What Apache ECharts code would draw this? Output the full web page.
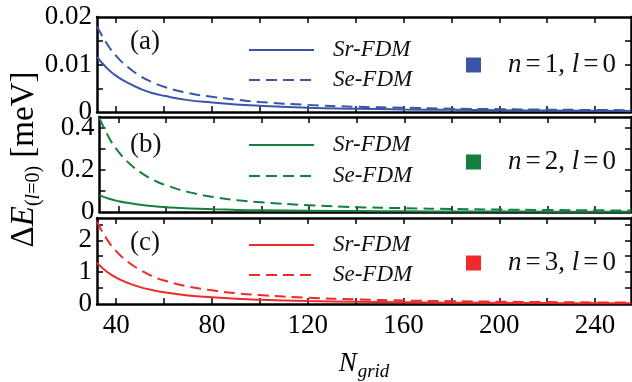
<!DOCTYPE html>
<html>
<head>
<meta charset="utf-8">
<script src="https://cdn.jsdelivr.net/npm/echarts@6/dist/echarts.min.js"></script>
<style>html,body{margin:0;padding:0;background:#fff}#c{width:632px;height:382px}</style>
</head>
<body>
<div id="c"></div>
<script>
// ---- data ----
const nGrid = [32,36,40,45,50,55,60,70,80,90,100,120,140,160,180,200,220,240,255];
const srA = [0.0116,0.0093,0.0076,0.0061,0.0049,0.0040,0.0034,0.0025,0.0020,0.0016,0.0013,0.0009,0.0007,0.00055,0.00045,0.00037,0.0003,0.00026,0.00023];
const seA = [0.0180,0.0145,0.0118,0.0094,0.0076,0.0063,0.0053,0.0040,0.0032,0.0026,0.0021,0.0015,0.0011,0.0009,0.0007,0.0006,0.0005,0.00042,0.00038];
const srB = [0.080,0.063,0.051,0.041,0.033,0.027,0.023,0.017,0.013,0.010,0.008,0.0057,0.0042,0.0032,0.0025,0.002,0.0017,0.0014,0.0012];
const seB = [0.445,0.352,0.285,0.225,0.182,0.150,0.126,0.093,0.071,0.056,0.046,0.032,0.023,0.018,0.014,0.0115,0.0095,0.008,0.007];
const srC = [1.29,1.02,0.83,0.66,0.53,0.44,0.37,0.27,0.21,0.165,0.135,0.095,0.07,0.053,0.042,0.034,0.028,0.024,0.021];
const seC = [2.58,2.05,1.66,1.32,1.07,0.88,0.74,0.55,0.43,0.34,0.28,0.195,0.145,0.11,0.088,0.072,0.06,0.05,0.045];
const xTicks = [40,60,80,100,120,140,160,180,200,220,240];
const xTickLabels = [40,80,120,160,200,240];
const yTicksA = [0.005,0.01,0.015]; const yLabelsA = [0,0.01,0.02];
const yTicksB = [0.1,0.2,0.3,0.4];  const yLabelsB = [0,0.2,0.4];
const yTicksC = [0.5,1,1.5,2,2.5];  const yLabelsC = [0,1,2];
const panelNames = ['(a)','(b)','(c)'];
const stateN = ['1','2','3'];
const seriesNames = ['Sr-FDM','Se-FDM'];

const colors = ['#3a55a8','#15803d','#ee2a2a'];
const FONT = '"Liberation Serif", "Times New Roman", serif';
const tops = [17,117,218];
const heights = [95,95,94];
const ymaxs = [0.02,0.45,2.7];
const yTicks = [yTicksA,yTicksB,yTicksC];
const yLabels = [yLabelsA,yLabelsB,yLabelsC];
const srs = [srA,srB,srC], ses = [seA,seB,seC];
const legTop = [50,145,245];
const sqTop = [65,162,263];

const grid=[], xAxis=[], yAxis=[], series=[], legend=[], graphic=[];
const axLine = {show:true, onZero:false, lineStyle:{color:'#000', width:2.5}};
for (let p=0;p<3;p++){
  grid.push({left:97, top:tops[p], width:534, height:heights[p]});
  const xbase = {type:'value', gridIndex:p, min:32, max:255, splitLine:{show:false}, axisLine:axLine,
    axisTick:{show:true, inside:true, length:6, customValues:xTicks, lineStyle:{color:'#000', width:1.5}}};
  xAxis.push(Object.assign({}, xbase, {position:'bottom',
    axisLabel:{show:p===2, customValues:xTickLabels, fontSize:27, fontFamily:FONT, color:'#000', margin:8},
    name: p===2 ? '{n|N}{g|grid}' : '', nameLocation:'middle', nameGap:42,
    nameTextStyle:{rich:{n:{fontFamily:FONT, fontStyle:'italic', fontSize:27, color:'#000'},
      g:{fontFamily:FONT, fontStyle:'italic', fontSize:19, color:'#000', padding:[16,0,0,1]}}}}));
  xAxis.push(Object.assign({}, xbase, {position:'top', axisLabel:{show:false}}));
  const ybase = {type:'value', gridIndex:p, min:0, max:ymaxs[p], splitLine:{show:false}, axisLine:axLine,
    axisTick:{show:true, inside:true, length:6, customValues:yTicks[p], lineStyle:{color:'#000', width:1.5}}};
  yAxis.push(Object.assign({}, ybase, {position:'left',
    axisLabel:{show:true, customValues:yLabels[p], fontSize:27, fontFamily:FONT, color:'#000', margin:5},
    name: p===1 ? '{d|Δ}{e|E}{s|(}{si|l}{s|=0)}{t| [meV]}' : '', nameLocation:'middle', nameGap:56, nameRotate:90,
    nameTextStyle:{padding:[0,0,0,10], rich:{
      d:{fontFamily:FONT, fontSize:33, color:'#000'},
      e:{fontFamily:FONT, fontSize:33, fontStyle:'italic', color:'#000'},
      s:{fontFamily:FONT, fontSize:20, color:'#000', padding:[18,0,0,0]},
      si:{fontFamily:FONT, fontSize:20, fontStyle:'italic', color:'#000', padding:[18,0,0,0]},
      t:{fontFamily:FONT, fontSize:33, color:'#000'}}}}));
  yAxis.push(Object.assign({}, ybase, {position:'right', axisLabel:{show:false}}));
  const nm0 = seriesNames[0]+' '+p, nm1 = seriesNames[1]+' '+p, nm2 = 'state '+p;
  series.push({type:'line', name:nm0, xAxisIndex:2*p, yAxisIndex:2*p, smooth:true, symbol:'none',
    color:colors[p], lineStyle:{width:2, color:colors[p], type:'solid'},
    data:nGrid.map((x,i)=>[x, srs[p][i]])});
  series.push({type:'line', name:nm1, xAxisIndex:2*p, yAxisIndex:2*p, smooth:true, symbol:'none',
    color:colors[p], lineStyle:{width:2, color:colors[p], type:[11,6]},
    data:nGrid.map((x,i)=>[x, ses[p][i]])});
  series.push({type:'scatter', name:nm2, xAxisIndex:2*p, yAxisIndex:2*p, color:colors[p],
    itemStyle:{color:colors[p], opacity:1}, data:[]});
  legend.push({data:[nm0,nm1], orient:'vertical', left:248, top:legTop[p]-13, padding:0,
    itemWidth:65, itemHeight:14, itemGap:4 + (p===1?1:0), selectedMode:false,
    itemStyle:{opacity:0}, lineStyle:{type:'inherit', width:2, opacity:1},
    formatter:(n)=>n.split(' ')[0],
    textStyle:{fontFamily:FONT, fontStyle:'italic', fontSize:23, color:'#111', lineHeight:26, padding:[0,0,0,14]}});
  legend.push({data:[{name:nm2, icon:'rect'}], left:466, top:sqTop[p]-14, padding:0,
    itemWidth:15, itemHeight:15, selectedMode:false, itemStyle:{opacity:1},
    formatter:()=>'{i|n}{e|=}{r|'+stateN[p]+', }{i|l}{e|=}{r|0}',
    textStyle:{lineHeight:28, padding:[0,0,0,22], rich:{
      i:{fontFamily:FONT, fontStyle:'italic', fontSize:27, color:'#111'},
      e:{fontFamily:FONT, fontSize:27, color:'#111', padding:[0,4,0,4]},
      r:{fontFamily:FONT, fontSize:27, color:'#111'}}}});
  graphic.push({type:'text', left:130, top:tops[p]+ (p===1?14:11), style:{text:panelNames[p], font:'27px "Liberation Serif"', fill:'#111'}});
}

const chart = echarts.init(document.getElementById('c'), null, {renderer:'canvas'});
chart.setOption({animation:false, backgroundColor:'#fff', grid, xAxis, yAxis, series, legend, graphic});
</script>
</body>
</html>
